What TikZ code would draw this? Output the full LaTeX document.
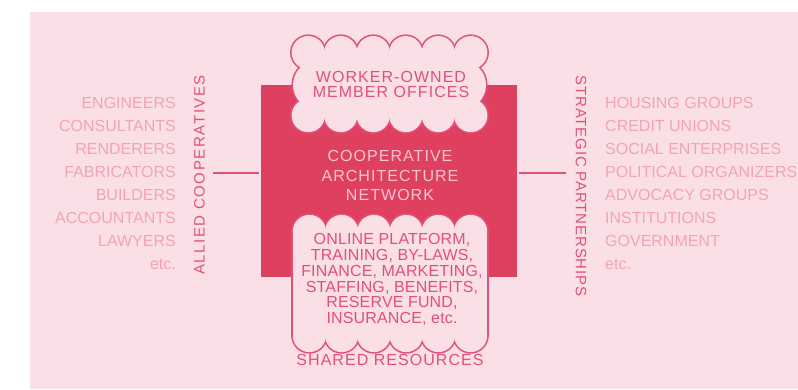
\documentclass[tikz,border=0pt]{standalone}
\usepackage{fontspec}
\setmainfont{Liberation Sans}
\newfontfamily\fList{Liberation Sans}
\newfontfamily\fWide[LetterSpace=6.5]{Liberation Sans}
\newfontfamily\fRes[LetterSpace=1]{Liberation Sans}
\newfontfamily\fAllied[LetterSpace=10.5]{Liberation Sans}
\newfontfamily\fStrat[LetterSpace=5.5]{Liberation Sans}
\definecolor{bgpink}{HTML}{FAE0E6}
\definecolor{darkrose}{HTML}{E0405F}
\definecolor{rose}{HTML}{E2507A}
\definecolor{lightpink}{HTML}{F2A3B8}
\definecolor{nettext}{HTML}{F9C6D2}
\begin{document}
\begin{tikzpicture}[x=1pt,y=-1pt,
  listtext/.style={inner sep=0pt, text=lightpink, font=\fList\fontsize{16}{23.1}\selectfont},
  vlabel/.style={inner sep=0pt, text=rose},
  conn/.style={draw=rose, line width=2pt},
  cloudline/.style={draw=rose, line width=3.2pt},
  cloudfill/.style={fill=bgpink},
]
\useasboundingbox (0,0) rectangle (798,389);
\path[fill=bgpink] (30,12) rectangle (798,389);

% central network block
\node[fill=darkrose, minimum width=256pt, minimum height=192pt, inner sep=0pt] (net) at (389,181) {};

% top cloud
\foreach \k in {0,...,5}{
  \path[cloudline] ({308.25+32.5*\k},52.6) circle[radius=16.6pt];
  \path[cloudline] ({308.25+32.5*\k},115.5) circle[radius=16.6pt];
}
\path[cloudline] (317.5,85) circle[radius=24.5pt];
\path[cloudline] (461.5,85) circle[radius=24.5pt];
\foreach \k in {0,...,5}{
  \path[cloudfill] ({308.25+32.5*\k},52.6) circle[radius=16.6pt];
  \path[cloudfill] ({308.25+32.5*\k},115.5) circle[radius=16.6pt];
}
\path[cloudfill] (317.5,85) circle[radius=24.5pt];
\path[cloudfill] (461.5,85) circle[radius=24.5pt];
\path[cloudfill] (308,52.6) rectangle (471,115.5);

% bottom cloud
\foreach \k in {0,...,5}{
  \path[cloudline] ({309.4+32.24*\k},231.5) circle[radius=16.6pt];
  \path[cloudline] ({309.4+32.24*\k},335.5) circle[radius=16.6pt];
}
\path[cloudline] (292.8,231.5) rectangle (487.2,335.5);
\foreach \k in {0,...,5}{
  \path[cloudfill] ({309.4+32.24*\k},231.5) circle[radius=16.6pt];
  \path[cloudfill] ({309.4+32.24*\k},335.5) circle[radius=16.6pt];
}
\path[cloudfill] (292.8,231.5) rectangle (487.2,335.5);

% texts in the centre
\node[inner sep=0pt, text=rose, align=center, font=\fWide\fontsize{16}{15.8}\selectfont] (members) at (391,84.5) {WORKER-OWNED\\MEMBER OFFICES};
\node[inner sep=0pt, text=nettext, align=center, font=\fWide\fontsize{16}{19.5}\selectfont] (nettxt) at (390,175.5) {COOPERATIVE\\ARCHITECTURE\\NETWORK};
\node[inner sep=0pt, text=rose, align=center, font=\fRes\fontsize{16}{15.9}\selectfont] (resources) at (392,279.5) {ONLINE PLATFORM,\\TRAINING, BY-LAWS,\\FINANCE, MARKETING,\\STAFFING, BENEFITS,\\RESERVE FUND,\\INSURANCE, etc.};
\node[inner sep=0pt, text=rose, anchor=base, font=\fWide\fontsize{16}{15.5}\selectfont] (shared) at (390,365) {SHARED RESOURCES};

% side lists
\foreach \t [count=\i] in {ENGINEERS,CONSULTANTS,RENDERERS,FABRICATORS,BUILDERS,ACCOUNTANTS,LAWYERS,etc.}{
  \node[listtext, anchor=base east] (ally\i) at (176,{108+23.1*(\i-1)}) {\t};
}
\foreach \t [count=\i] in {HOUSING GROUPS,CREDIT UNIONS,SOCIAL ENTERPRISES,POLITICAL ORGANIZERS,ADVOCACY GROUPS,INSTITUTIONS,GOVERNMENT,etc.}{
  \node[listtext, anchor=base west] (part\i) at (605,{108+23.1*(\i-1)}) {\t};
}

% vertical labels
\node[vlabel, rotate=90, font=\fAllied\fontsize{15}{15}\selectfont] (allied) at (199.5,175) {ALLIED COOPERATIVES};
\node[vlabel, rotate=-90, font=\fStrat\fontsize{15}{15}\selectfont] (strat) at (581,186) {STRATEGIC PARTNERSHIPS};

% connectors
\coordinate (la) at (213,173);
\coordinate (ra) at (566,173);
\draw[conn, shorten >=2pt] (la) -- (la -| net.west);
\draw[conn, shorten <=2pt] (ra -| net.east) -- (ra);
\end{tikzpicture}
\end{document}
